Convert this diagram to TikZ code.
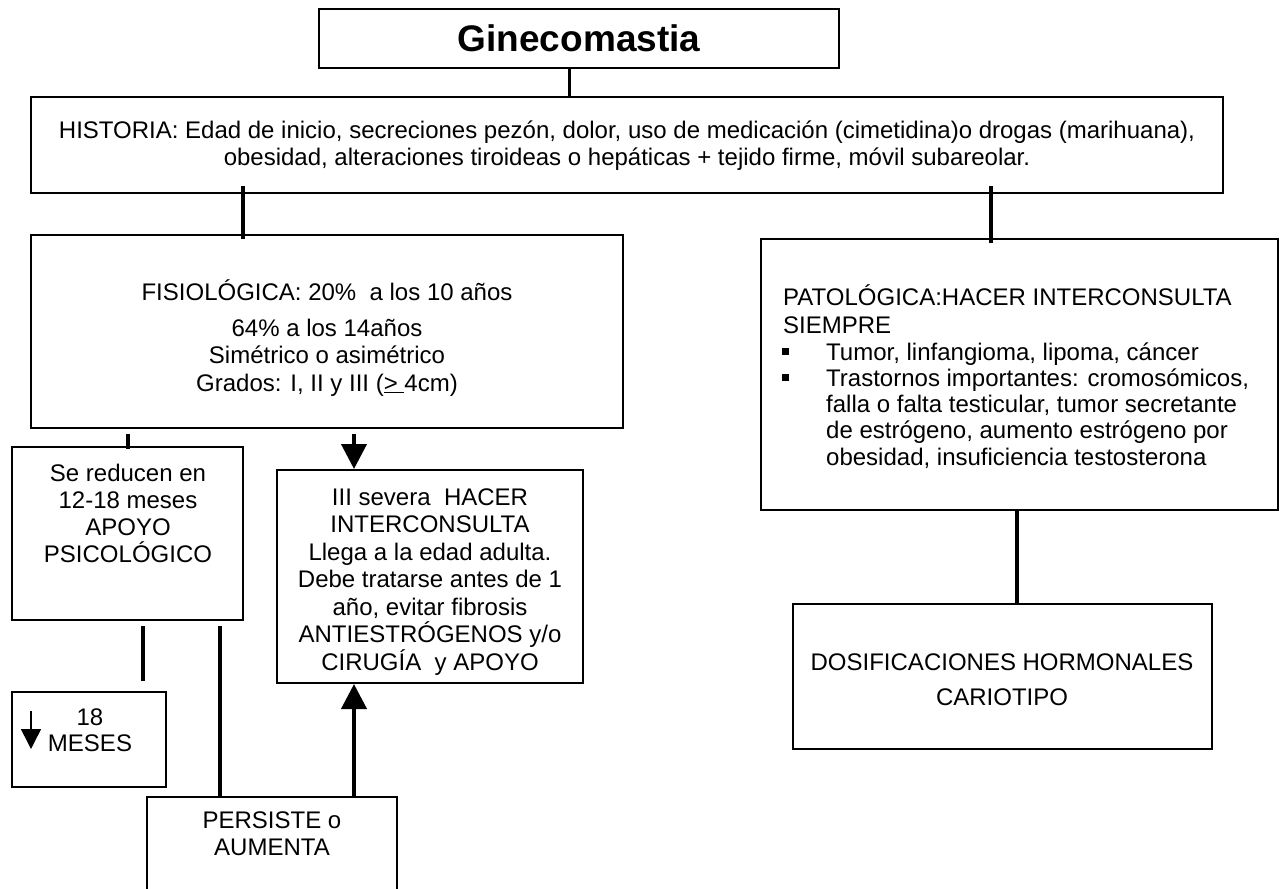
\documentclass[tikz,border=0pt]{standalone}
\usepackage{fontspec}
\setmainfont{Liberation Sans}
\usetikzlibrary{arrows.meta}

% box from its corners: name, x1, y1, x2, y2
\newcommand\mkbox[5]{\node[box, minimum width={#4-#2}, minimum height={#5-#3}] (#1) at ({(#2+#4)/2},{(#3+#5)/2}) {};}
% stacked lines of text: name prefix, anchor, x, first baseline, line step, lines
\newcommand\textlines[6]{%
  \foreach \ln [count=\i] in {#6} {\node[txt, anchor=#2] (#1\i) at (#3,{#4+(\i-1)*#5}) {\ln};}}

\begin{document}
\begin{tikzpicture}[x=1pt, y=-1pt,
  box/.style={draw=black, line width=2pt, rectangle, inner sep=0pt},
  txt/.style={inner sep=0pt, font=\fontsize{24}{27}\selectfont},
  conn/.style={line width=4pt, draw=black},
  tip/.style={-{Triangle[width=25pt, length=25pt]}},
  bulletmark/.style={rectangle, fill=black, minimum size=7pt, inner sep=0pt}]
\useasboundingbox (0,0) rectangle (1281,888);

% boxes
\mkbox{title}{319}{9}{839}{68}
\mkbox{hist}{31}{97}{1223}{193}
\mkbox{fisio}{31}{235}{623}{428}
\mkbox{pato}{761}{239}{1278}{510}
\mkbox{dosif}{793}{604}{1212}{749}
\mkbox{reduc}{12}{447}{243}{620}
\mkbox{sev}{277}{470}{583}{683}
\mkbox{meses}{12}{692}{166}{787}
\mkbox{pers}{147}{797}{397}{897}

% texts
\node[inner sep=0pt, font=\fontsize{37}{42}\selectfont\bfseries] (titletxt) at (579,38) {Ginecomastia};

\textlines{histL}{base}{627}{139}{26}{%
  {HISTORIA: Edad de inicio, secreciones pezón, dolor, uso de medicación (cimetidina)o drogas (marihuana),},
  {obesidad, alteraciones tiroideas o hepáticas + tejido firme, móvil subareolar.}}

\textlines{fisioA}{base}{327}{300}{27}{{FISIOLÓGICA: 20\%\ \ a los 10 años}}
\textlines{fisioB}{base}{327}{336}{27.5}{%
  {64\% a los 14años},
  {Simétrico o asimétrico},
  {Grados: I, II y III (\underline{>\ }4cm)}}

\textlines{reducL}{base}{128}{481}{27}{%
  {Se reducen en},{12-18 meses},{APOYO},{PSICOLÓGICO}}

\textlines{sevL}{base}{430}{505}{27.5}{%
  {III severa\ \ HACER},
  {INTERCONSULTA},
  {Llega a la edad adulta.},
  {Debe tratarse antes de 1},
  {año, evitar fibrosis},
  {ANTIESTRÓGENOS y/o},
  {CIRUGÍA\ \ y APOYO}}

\textlines{mesesL}{base}{90}{725}{26}{{18},{MESES}}

\textlines{persL}{base}{272}{828}{27}{{PERSISTE o},{AUMENTA}}

\textlines{patoA}{base west}{783}{305}{28}{%
  {PATOLÓGICA:HACER INTERCONSULTA},{SIEMPRE}}
\textlines{patoB}{base west}{826}{360}{26.3}{%
  {Tumor, linfangioma, lipoma, cáncer},
  {Trastornos importantes: cromosómicos,},
  {falla o falta testicular, tumor secretante},
  {de estrógeno, aumento estrógeno por},
  {obesidad, insuficiencia testosterona}}
\node[bulletmark] (bul1) at (785,351) {};
\node[bulletmark] (bul2) at (785,377) {};

\textlines{dosifL}{base}{1002}{670}{35}{%
  {DOSIFICACIONES HORMONALES},{CARIOTIPO}}

% connector columns
\coordinate (cT) at (569,0);
\coordinate (cHL) at (243,0);
\coordinate (cHR) at (991,0);
\coordinate (cFL) at (128,0);
\coordinate (cSev) at (354,0);
\coordinate (cRL) at (143,0);
\coordinate (cRR) at (220,0);
\coordinate (cP) at (1017,0);

% connectors
\draw[conn, line width=3pt, shorten >=-2pt] (title.south -| cT) -- (hist.north -| cT);
\draw[conn, shorten <=-8pt, shorten >=-5pt] (hist.south -| cHL) -- (fisio.north -| cHL);
\draw[conn, shorten <=-8pt, shorten >=-5pt] (hist.south -| cHR) -- (pato.north -| cHR);
\draw[conn, shorten <=5pt, shorten >=-3pt] (fisio.south -| cFL) -- (reduc.north -| cFL);
\draw[conn, tip, shorten <=5pt] (fisio.south -| cSev) -- (sev.north -| cSev);
\draw[conn, shorten <=5pt, shorten >=10pt] (reduc.south -| cRL) -- (meses.north -| cRL);
\draw[conn, shorten <=5pt] (reduc.south -| cRR) -- (pers.north -| cRR);
\draw[conn, tip] (pers.north -| cSev) -- (sev.south -| cSev);
\draw[conn] (pato.south -| cP) -- (dosif.north -| cP);

% small downward arrow beside "18 MESES"
\draw[line width=1.5pt, -{Triangle[width=20pt, length=20pt]}] (31,711) -- (31,749);
\end{tikzpicture}
\end{document}
